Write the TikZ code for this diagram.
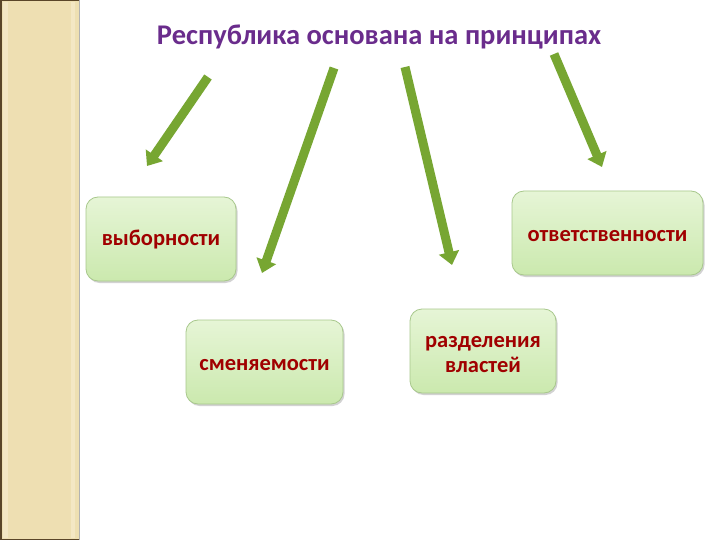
\documentclass[tikz,border=0pt]{standalone}
\usepackage{fontspec}
\setmainfont{Carlito}
\usetikzlibrary{arrows.meta,shadows}
\definecolor{stripfill}{HTML}{EEDFB2}
\definecolor{stripedge}{HTML}{5A4528}
\definecolor{striplight}{HTML}{F4E7C4}
\definecolor{titlecol}{HTML}{6A2C8C}
\definecolor{arrowgreen}{HTML}{77A632}
\definecolor{boxtop}{HTML}{E6F5D6}
\definecolor{boxbot}{HTML}{CBE9AE}
\definecolor{boxedge}{HTML}{A8C88C}
\definecolor{textred}{HTML}{A00000}
\tikzset{
  greenarrow/.style={draw=arrowgreen, line width=9pt,
    -{Triangle[length=13pt,width=20pt]}},
  principle/.style={rounded corners=12pt, draw=boxedge, line width=0.8pt,
    top color=boxtop, bottom color=boxbot,
    drop shadow={shadow xshift=1.5pt, shadow yshift=-2pt, fill=black!35, opacity=0.5},
    inner sep=0pt, minimum height=84pt},
  boxtext/.style={font=\bfseries\fontsize{22.5}{25}\selectfont, text=textred,
    align=center, inner sep=0pt},
}
\begin{document}
\begin{tikzpicture}[x=1pt,y=-1pt]
\useasboundingbox (0,0) rectangle (720,540);
\fill[white] (0,0) rectangle (720,540);
% left decorative strip
\fill[stripfill] (0,0) rectangle (79,540);
\fill[striplight] (3,2) rectangle (8,538);
\fill[striplight] (71,2) rectangle (75,538);
\draw[stripedge, line width=1.5pt] (0.75,0) -- (0.75,540);
\draw[stripedge, line width=1pt] (0,0.5) -- (79,0.5);
\draw[stripedge, line width=1pt] (0,539.5) -- (79,539.5);
\draw[black!30, line width=0.8pt] (79,0) -- (79,540);
% title
\node[font=\bfseries\fontsize{28.5}{32}\selectfont, text=titlecol] (title) at (379,37) {Республика основана на принципах};
% boxes
\node[principle, minimum width=150pt] (vyb) at (161,239) {};
\node[principle, minimum width=157pt] (smen) at (264.5,362) {};
\node[principle, minimum width=146pt] (razd) at (483,351) {};
\node[principle, minimum width=191pt] (otv) at (607.5,233) {};
\node[boxtext] (vybt) at ([yshift=-1pt]vyb.center) {выборности};
\node[boxtext] (sment) at ([yshift=-3.5pt]smen.center) {сменяемости};
\node[boxtext] (razdt) at ([yshift=-3.5pt]razd.center) {разделения\\властей};
\node[boxtext] (otvt) at ([yshift=-3.5pt]otv.center) {ответственности};
% arrows
\coordinate (a1s) at (208,77);  \coordinate (a1e) at (147,166);
\coordinate (a2s) at (334,68);  \coordinate (a2e) at (262,273);
\coordinate (a3s) at (405,67);  \coordinate (a3e) at (452,265);
\coordinate (a4s) at (554,54);  \coordinate (a4e) at (602,167);
\draw[greenarrow] (a1s) -- (a1e);
\draw[greenarrow] (a2s) -- (a2e);
\draw[greenarrow] (a3s) -- (a3e);
\draw[greenarrow] (a4s) -- (a4e);
\end{tikzpicture}
\end{document}
